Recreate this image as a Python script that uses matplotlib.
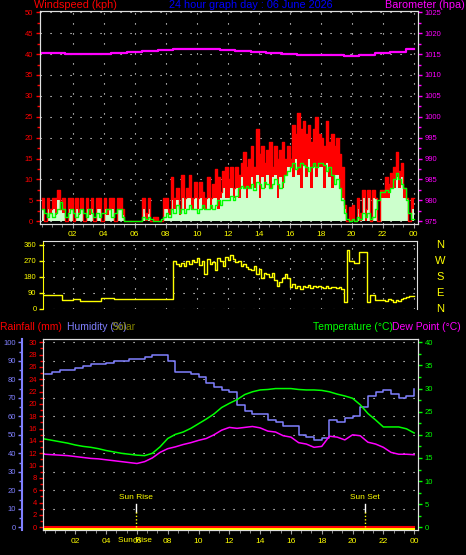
import matplotlib
matplotlib.use('Agg')
import matplotlib.pyplot as plt
import matplotlib.transforms as mtransforms
import numpy as np
from matplotlib.ticker import MultipleLocator

plt.rcParams['font.family'] = ['Liberation Sans', 'DejaVu Sans']

# ---- data (10 minute samples, 6 per hour) ----
gust = [5.5, 0, 5.5, 3, 5.5, 5.5,
        7.5, 3, 5.5, 0, 5.5, 5.5,
        0, 5.5, 3, 5.5, 0, 5.5,
        3, 5.5, 0, 5.5, 5.5, 0,
        5.5, 3, 5.5, 5.5, 0, 5.5,
        5.5, 3, 0, 0, 0, 0,
        0, 0, 0, 5.5, 2, 5.5,
        0, 1, 1, 0, 0, 5.5,
        5.5, 3, 10.5, 5.5, 8, 3,
        11, 5.5, 8, 11, 5.5, 9.5,
        5.5, 9.5, 7, 5.5, 10.5, 5.5,
        9, 12.5, 10.5, 7, 12, 13,
        10, 13, 8, 13, 11, 14,
        16.5, 13, 15, 18, 13, 22,
        16, 18, 14, 17, 19, 13,
        18, 15, 17, 19, 15, 18,
        15, 23, 21, 26, 22, 24,
        21, 23, 19, 22, 25, 21,
        20, 18, 24, 19, 21, 18,
        20, 16, 13, 4, 0, 3.5,
        4, 0, 5.5, 2, 7.5, 3,
        7.5, 0, 7.5, 5.5, 0, 7.5,
        7.5, 10.5, 9, 11.5, 13, 16.5,
        12, 14, 8, 5.5, 0, 5.5]
speed = [3, 0, 3, 2, 3, 1.5,
         5, 3, 2, 0, 3, 3,
         0, 3, 1.5, 3, 0, 3,
         1.5, 3, 0, 3, 3, 0,
         3, 1.5, 3, 3, 0, 3,
         3, 1.5, 0, 0, 0, 0,
         0, 0, 0, 3, 0, 3,
         0, 0, 0, 0, 0, 3,
         3, 1.5, 5, 3, 5, 1.5,
         5.5, 3, 5.5, 5.5, 3, 5.5,
         3, 5.5, 3, 3, 5.5, 3,
         5.5, 5.5, 3, 5.5, 8, 5.5,
         5.5, 8, 5.5, 8, 5.5, 10.5,
         8, 5.5, 8, 10.5, 8, 11,
         5.5, 10.5, 8, 11, 8, 10.5,
         11, 5.5, 10.5, 8, 11, 13,
         13, 10.5, 15, 11, 8, 13.5,
         10.5, 15, 8, 13, 10.5, 13,
         13, 8, 14, 10.5, 8, 11,
         11, 8, 5.5, 3, 0, 0,
         0, 0, 3, 0, 5.5, 0,
         5.5, 0, 5.5, 5.5, 0, 5.5,
         5.5, 5.5, 5.5, 8, 8, 10.5,
         8, 10.5, 5.5, 5.5, 0, 3]
avg = [3, 2, 1, 2, 1, 2,
       3, 4.5, 3, 1, 2, 3,
       2, 1, 2, 3, 2, 1,
       3, 2, 1, 2, 1, 2,
       2, 3, 3, 1, 2, 3,
       3, 1, 0, 0, 0, 0,
       0, 0, 0, 1, 0.5, 1,
       0.5, 0, 0, 0, 0.5, 1,
       2, 1, 3, 2, 4, 2,
       3, 2, 3, 4, 3, 3,
       2, 3, 4, 3, 3, 4,
       3, 4, 5, 4, 5, 5,
       5, 6, 5, 6, 8, 8.5,
       8, 8.5, 8, 9, 7.5, 9.5,
       9, 8, 9.5, 9, 8, 9,
       10, 9, 8, 9.5, 11, 12,
       13, 14, 12.5, 13, 14, 13.5,
       13, 12, 13, 14, 13, 14,
       14, 13.5, 12, 13, 11, 9,
       10, 8, 5, 2, 0.5, 0,
       0.5, 0, 1, 0.5, 2, 1,
       2, 0.5, 1, 3, 5, 7,
       7, 7.5, 7, 8, 10, 11.5,
       10, 9, 8, 5, 2, 0.5]
wind_dir = [75, 75, 75, 75, 75, 75,
            75, 75, 50, 50, 50, 50,
            55, 55, 55, 45, 45, 45,
            45, 45, 45, 45, 45, 58,
            62, 62, 62, 62, 57, 57,
            57, 57, 57, 57, 57, 57,
            57, 57, 57, 57, 57, 57,
            57, 57, 57, 57, 57, 57,
            57, 57, 57, 270, 250, 240,
            255, 240, 270, 250, 275, 260,
            285, 245, 270, 195, 280, 250,
            260, 220, 285, 270, 240, 290,
            275, 300, 280, 260, 270, 240,
            250, 235, 225, 215, 240, 195,
            225, 170, 200, 195, 180, 200,
            160, 130, 150, 175, 195, 170,
            120, 140, 115, 125, 110, 130,
            120, 135, 115, 125, 120, 130,
            120, 118, 125, 115, 122, 120,
            118, 120, 110, 40, 330, 270,
            270, 255, 255, 320, 320, 320,
            35, 78, 78, 50, 50, 50,
            50, 45, 55, 50, 40, 50,
            45, 55, 60, 65, 70, 72]

# hourly barometer (hpa), hour 0..24
baro = [1015.3, 1015.2, 1015.0, 1015.1, 1015.0, 1015.2, 1015.6, 1015.8, 1016.0,
        1016.1, 1016.2, 1016.2, 1016.0, 1015.8, 1015.6, 1015.3, 1015.0, 1014.8,
        1014.8, 1014.7, 1014.6, 1014.8, 1015.2, 1015.6, 1016.2]

# half-hourly, 0..24
humidity = [83, 84, 85, 85, 86, 87, 88, 88, 89, 90, 90, 91, 91, 92, 93, 93, 90,
            84, 84, 83, 81, 78, 76, 74, 73, 66, 63, 61, 61, 58, 57, 55, 55, 50,
            49, 47, 48, 58, 57, 59, 60, 65, 71, 73, 74, 72, 70, 71, 75]
temperature = [19.1, 18.8, 18.5, 18.2, 17.8, 17.5, 17.3, 17.0, 16.6, 16.3, 16.0,
               15.8, 15.6, 15.5, 16.0, 17.4, 19.2, 20.1, 20.6, 21.4, 22.4, 23.4,
               24.5, 25.9, 26.8, 27.6, 28.7, 29.3, 29.7, 29.8, 30.0, 30.0, 30.0,
               29.8, 29.7, 29.7, 29.6, 29.3, 28.8, 28.4, 27.9, 26.5, 24.6, 23.2,
               21.7, 21.7, 21.7, 21.3, 20.4]
dew_point = [15.8, 15.7, 15.6, 15.5, 15.3, 15.1, 14.9, 14.8, 14.6, 14.4, 14.2,
             14.0, 13.8, 14.2, 15.0, 16.2, 17.0, 17.4, 17.9, 18.3, 18.8, 19.2,
             20.0, 21.0, 21.6, 21.4, 21.6, 21.8, 21.5, 20.8, 20.6, 19.8, 19.5,
             18.3, 18.0, 17.3, 17.5, 19.7, 19.5, 18.9, 20.0, 19.8, 18.4, 18.0,
             17.3, 16.2, 15.8, 15.8, 15.7]
rainfall = [0.0] * 49
solar = [0.0] * 49

sun_rise = 5.94
sun_set = 20.8
hour_labels = ['02', '04', '06', '08', '10', '12', '14', '16', '18', '20', '22', '00']
compass = ['N', 'W', 'S', 'E', 'N']
compass_deg = [360, 270, 180, 90, 0]

# ---- colours ----
RED = '#FF0000'
PALE = '#CCFFCC'
GREEN = '#00FF00'
MAG = '#FF00FF'
YEL = '#FFFF00'
HUM = '#8080FF'
BORDER = '#E0E0E0'
TICKGREY = '#A0A0A0'
GRID = dict(color='white', lw=0.8, ls=(0, (1, 8)))

W, H = 466, 555
fig = plt.figure(figsize=(W / 100, H / 100), dpi=100, facecolor='black')


def box(l, t, r, b):
    # pixel box (left, top, right, bottom) -> figure fractions
    return [l / W, 1 - b / H, (r - l) / W, (b - t) / H]


def close_step(vals):
    return list(vals) + [vals[-1]]


t10 = np.arange(len(gust) + 1) / 6.0
t_half = np.arange(len(humidity)) * 0.5
t_hour = np.arange(len(baro))
hour_ticks = np.arange(2, 25, 2)

# ---------------- wind panel ----------------
ax1 = fig.add_axes(box(39.5, 10.7, 418, 224.3), facecolor='black')
ax1.fill_between(t10, 0, close_step(gust), step='post', color=RED, lw=0)
ax1.step(t10, close_step(gust), where='post', color=RED, lw=1)
ax1.fill_between(t10, 0, close_step(speed), step='post', color=PALE, lw=0)
ax1.step(t10, close_step(avg), where='post', color=GREEN, lw=1)
ax1.set_xlim(-0.14, 24.28)
ax1.set_ylim(-0.72, 50.38)
ax1.set_xticks(hour_ticks)
ax1.set_xticklabels(hour_labels)
ax1.xaxis.set_minor_locator(MultipleLocator(2 / 3))
ax1.set_yticks(np.arange(0, 51, 5))
ax1.yaxis.set_minor_locator(MultipleLocator(2.5))
ax1.set_axisbelow(True)
ax1.grid(True, **GRID)
ax1.tick_params(axis='y', which='both', colors=RED, labelsize=5.5, length=3, width=1, pad=1.5)
ax1.tick_params(axis='y', which='minor', length=2)
ax1.tick_params(axis='x', which='both', colors=TICKGREY, labelcolor=YEL, labelsize=6, length=3, pad=2)
ax1.tick_params(axis='x', which='minor', length=2)
for s in ax1.spines.values():
    s.set_color(BORDER)

axb = ax1.twinx()
axb.plot(t_hour, baro, color=MAG, lw=1.6, drawstyle='steps-mid')
axb.set_ylim(974.28, 1025.38)
axb.set_yticks(np.arange(975, 1026, 5))
axb.yaxis.set_minor_locator(MultipleLocator(2.5))
axb.tick_params(axis='y', which='both', colors=MAG, labelsize=5.5, length=3, width=1, pad=1.5)
axb.tick_params(axis='y', which='minor', length=2)
for s in axb.spines.values():
    s.set_color(BORDER)

fig.text(34 / W, 1 - 5.5 / H, 'Windspeed (kph)', color=RED, fontsize=7.8, va='center', ha='left')
fig.text(251 / W, 1 - 5.5 / H, '24 hour graph day : 06 June 2026', color='#0000FF',
         fontsize=7.8, va='center', ha='center')
fig.text(465 / W, 1 - 5.5 / H, 'Barometer (hpa)', color=MAG, fontsize=7.8, va='center', ha='right')

# ---------------- wind direction panel ----------------
ax2 = fig.add_axes(box(42.7, 241, 416.7, 309.3), facecolor='black')
ax2.step(t10, close_step(wind_dir), where='post', color=YEL, lw=1)
ax2.set_xlim(0.065, 24.19)
ax2.set_ylim(-3.5, 381)
ax2.set_xticks(hour_ticks)
ax2.set_yticks([0, 90, 180, 270, 360])
ax2.set_axisbelow(True)
ax2.grid(True, **GRID)
ax2.tick_params(axis='x', length=0, labelbottom=False)
ax2.tick_params(axis='y', colors=YEL, labelsize=5.5, length=3, width=1, pad=1.5)
for s in ax2.spines.values():
    s.set_color(BORDER)
ax2.spines['left'].set_color(YEL)
ax2.spines['bottom'].set_visible(False)

# compass letters: x in figure pixels, y in degrees
letter_tr = mtransforms.blended_transform_factory(fig.transFigure, ax2.transData)
for letter, deg in zip(compass, compass_deg):
    ax2.text(440 / W, deg, letter, color=YEL, fontsize=8, ha='center', va='center',
             transform=letter_tr, clip_on=False)

# ---------------- temperature / humidity panel ----------------
ax3 = fig.add_axes(box(43.3, 339.3, 418.3, 530), facecolor='black')
ax3.set_xlim(-0.08, 24.27)
ax3.set_ylim(-0.435, 30.49)
ax3.set_yticks(np.arange(0, 31, 2))
ax3.yaxis.set_minor_locator(MultipleLocator(1))
ax3.set_xticks(hour_ticks)
ax3.set_xticklabels(hour_labels)
ax3.xaxis.set_minor_locator(MultipleLocator(2 / 3))
ax3.tick_params(axis='y', which='both', colors=RED, labelsize=5.5, length=3, width=1, pad=1.5)
ax3.tick_params(axis='y', which='minor', length=2)
ax3.tick_params(axis='x', which='both', colors=TICKGREY, labelcolor=YEL, labelsize=6, length=3, pad=3)
ax3.tick_params(axis='x', which='minor', length=2)
for s in ax3.spines.values():
    s.set_color(BORDER)

axH = ax3.twinx()
axH.set_ylim(-1.45, 101.6)
axH.step(t_half, humidity, where='post', color=HUM, lw=1.1)
axH.set_yticks(np.arange(0, 101, 10))
axH.yaxis.set_minor_locator(MultipleLocator(5))
axH.yaxis.set_ticks_position('left')
axH.yaxis.set_label_position('left')
axH.spines['left'].set_position(('outward', 15.3))
axH.spines['left'].set_visible(True)
axH.spines['left'].set_color(HUM)
axH.spines['left'].set_linewidth(1.5)
for k in ['right', 'top', 'bottom']:
    axH.spines[k].set_visible(False)
axH.tick_params(axis='y', which='both', colors=HUM, labelsize=5.5, length=3, width=1, pad=1.5)
axH.tick_params(axis='y', which='minor', length=2)
axH.set_axisbelow(True)
axH.grid(True, **GRID)

axT = ax3.twinx()
axT.set_ylim(-0.58, 40.65)
axT.plot(t_half, temperature, color=GREEN, lw=1.1)
axT.plot(t_half, dew_point, color=MAG, lw=1.1)
solar_tr = mtransforms.offset_copy(axT.transData, fig=fig, y=-1.5, units='dots')
axT.plot(t_half, solar, color=YEL, lw=1.5, transform=solar_tr)
axT.plot(t_half, np.array(rainfall) * 40 / 30, color=RED, lw=1.5)
axT.set_yticks(np.arange(0, 41, 5))
axT.yaxis.set_minor_locator(MultipleLocator(2.5))
axT.tick_params(axis='y', which='both', colors=GREEN, labelsize=5.5, length=3, width=1, pad=1.5)
axT.tick_params(axis='y', which='minor', length=2)
for s in axT.spines.values():
    s.set_color(BORDER)

for x, name in [(sun_rise, 'Sun Rise'), (sun_set, 'Sun Set')]:
    axT.plot([x, x], [3.3, 5.0], color='white', lw=1)
    axT.plot([x, x], [0, 3.3], color=YEL, lw=1, ls=(0, (1, 1.5)))
    axT.text(x, 6.4, name, color=YEL, fontsize=6, ha='center', va='center')

bottom_tr = mtransforms.blended_transform_factory(ax3.transData, fig.transFigure)
ax3.text(sun_rise - 0.1, 1 - 540.7 / H, 'Sun Rise', color=YEL, fontsize=6,
         ha='center', va='center', transform=bottom_tr)

fig.text(0 / W, 1 - 326.7 / H, 'Rainfall (mm)', color=RED, fontsize=7.5, va='center', ha='left')
fig.text(67 / W, 1 - 326.7 / H, 'Humidity (%)', color=HUM, fontsize=7.5, va='center', ha='left')
fig.text(112 / W, 1 - 326.7 / H, 'Solar', color='#808000', fontsize=7.5, va='center', ha='left')
fig.text(313 / W, 1 - 326.7 / H, 'Temperature (\u00b0C)', color=GREEN, fontsize=7.5, va='center', ha='left')
fig.text(461 / W, 1 - 326.7 / H, 'Dew Point (\u00b0C)', color=MAG, fontsize=7.5, va='center', ha='right')

fig.savefig('out.png', dpi=100, facecolor='black')
